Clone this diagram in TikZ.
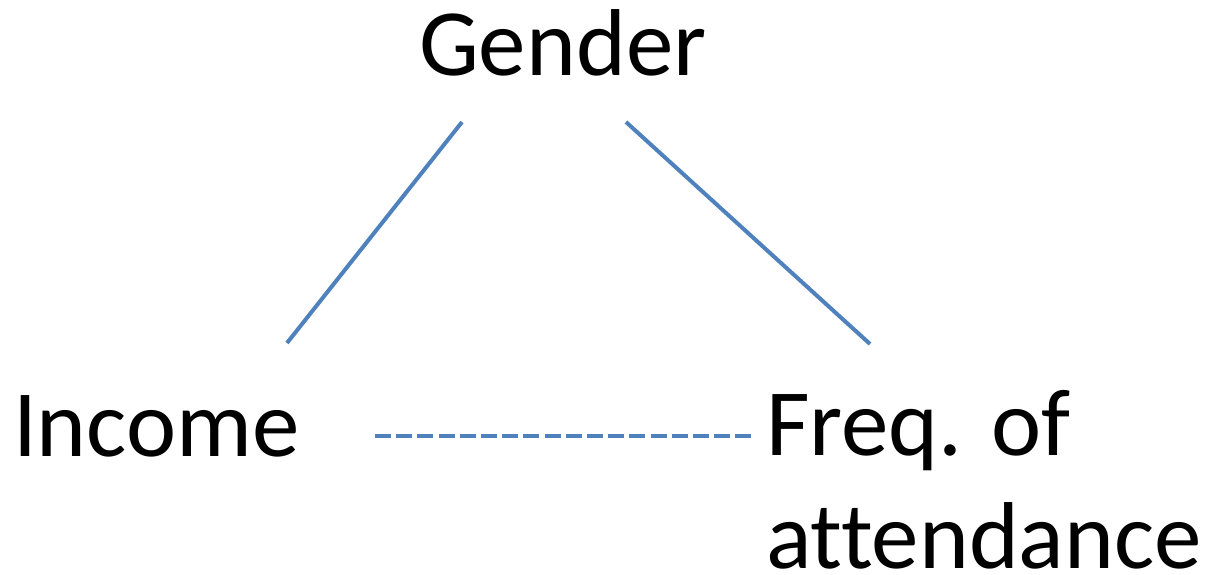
\documentclass[tikz,border=0pt]{standalone}
\usepackage{fontspec}
\setmainfont{Carlito}[Ligatures={NoCommon}]
\definecolor{lineblue}{RGB}{79,129,189}
\begin{document}
\begin{tikzpicture}[x=1pt,y=-1pt,
  label/.style={inner sep=0pt,outer sep=0pt,anchor=base west,font=\fontsize{95}{113}\selectfont,align=left},
  link/.style={draw=lineblue,line width=4pt},
  dlink/.style={draw=lineblue,line width=4.5pt,dash pattern=on 16pt off 5.2pt}]
\useasboundingbox (0,0) rectangle (1212,574);
\node[label] (gender) at (419,75) {Gender};
\node[label] (income) at (13,456) {Income};
\node[label] (freq) at (766,568) {Freq. of\\attendance};
\coordinate (g1) at (462,122);
\coordinate (i1) at (287,343);
\coordinate (g2) at (626,122);
\coordinate (f1) at (870,344);
\coordinate (i2) at (375,436);
\coordinate (f2) at (753,436);
\draw[link] (g1) -- (i1);
\draw[link] (g2) -- (f1);
\draw[dlink] (i2) -- (f2);
\end{tikzpicture}
\end{document}
